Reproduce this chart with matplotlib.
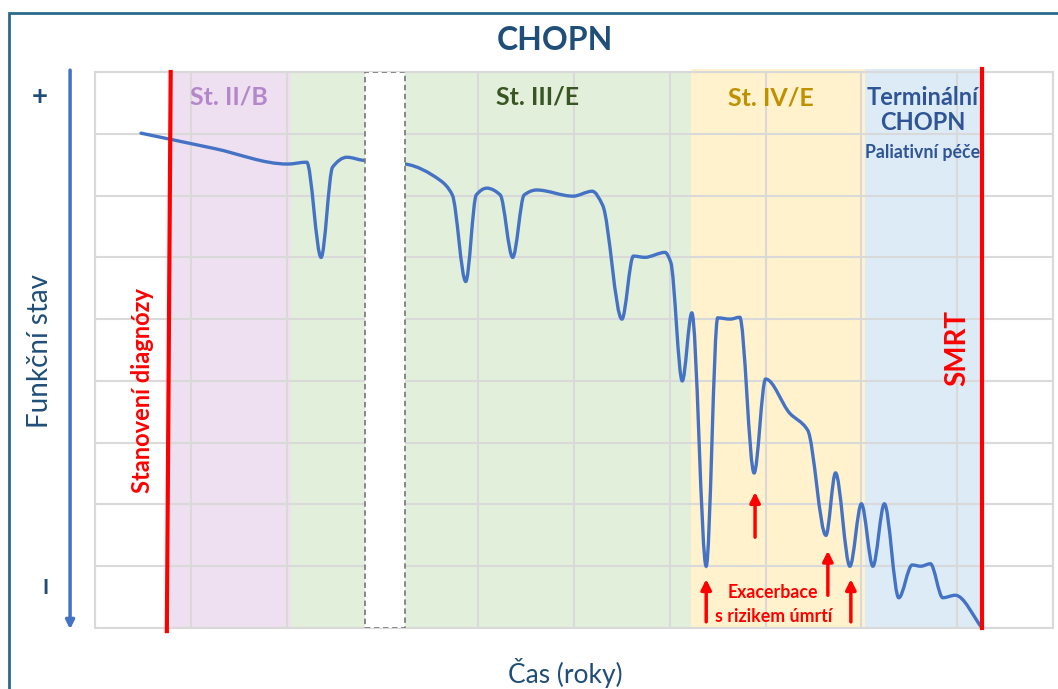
import numpy as np
import matplotlib
matplotlib.use("Agg")
import matplotlib.pyplot as plt
from matplotlib.path import Path
from matplotlib.patches import PathPatch, Rectangle

plt.rcParams['font.family'] = ['Lato', 'DejaVu Sans']

# Průběh funkčního stavu (čas v letech, stav 0-9)
cas = [0.48, 1.25, 2.01, 2.21, 2.36, 2.48, 2.63, 2.80, 3.03, 3.24, 3.60, 3.73, 3.87, 3.98,
       4.09, 4.23, 4.36, 4.48, 4.61, 4.99, 5.19, 5.30, 5.50, 5.62, 5.74, 5.95, 6.01,
       6.13, 6.23, 6.38, 6.50, 6.63, 6.73, 6.88, 7.00, 7.25, 7.44, 7.63, 7.73, 7.88,
       8.00, 8.12, 8.24, 8.39, 8.53, 8.62, 8.72, 8.85, 8.98, 9.26]
stav = [8.01, 7.76, 7.51, 7.54, 6.00, 7.46, 7.62, 7.57, 7.54, 7.51, 7.25, 7.01, 5.61, 7.01,
        7.12, 7.01, 6.00, 7.01, 7.09, 6.99, 7.07, 6.84, 5.00, 6.02, 6.00, 6.08, 5.92,
        4.00, 5.10, 1.00, 5.02, 5.00, 5.03, 2.51, 4.03, 3.48, 3.20, 1.50, 2.51, 1.00,
        2.01, 1.00, 2.01, 0.49, 1.02, 1.00, 1.04, 0.49, 0.53, 0.00]

# Stadia (hranice v čase)
stadia = ["St. II/B", "St. III/E", "St. IV/E", "Terminální\nCHOPN"]
stadia_od = [0.78, 2.05, 6.22, 8.04]
stadia_do = [2.05, 6.22, 8.04, 9.26]
stadia_barvy = ['#EFE0F1', '#E2EFDA', '#FFF2CC', '#DDEBF7']

diagnoza_t = 0.77
smrt_t = 9.26
mezera = (2.82, 3.24)

# Exacerbace (šipky)
exac_t = [6.38, 6.89, 7.65, 7.89]
exac_od = [0.10, 1.47, 0.53, 0.10]
exac_do = [0.79, 2.20, 1.25, 0.79]


def hladka_cesta(xs, ys):
    # monotónní kubické tečny -> Bézierovy úseky
    x = np.asarray(xs, float)
    y = np.asarray(ys, float)
    h = np.diff(x)
    d = np.diff(y) / h
    m = np.zeros_like(x)
    m[0], m[-1] = d[0], d[-1]
    for k in range(1, len(x) - 1):
        if d[k - 1] * d[k] > 0:
            w1 = 2 * h[k] + h[k - 1]
            w2 = h[k] + 2 * h[k - 1]
            m[k] = (w1 + w2) / (w1 / d[k - 1] + w2 / d[k])
    verts = [(x[0], y[0])]
    codes = [Path.MOVETO]
    for k in range(len(x) - 1):
        verts += [(x[k] + h[k] / 3, y[k] + m[k] * h[k] / 3),
                  (x[k + 1] - h[k] / 3, y[k + 1] - m[k + 1] * h[k] / 3),
                  (x[k + 1], y[k + 1])]
        codes += [Path.CURVE4] * 3
    return Path(verts, codes)


fig = plt.figure(figsize=(10.58, 6.89), dpi=100)
ax = fig.add_axes([95 / 1058, 61 / 689, 958 / 1058, 556 / 689])
ax.set_xlim(0, 10)
ax.set_ylim(0, 9)

# Rámeček
fig.add_artist(Rectangle((9 / 1058, -0.1), 1.2, 1 - 13 / 689 + 0.1, transform=fig.transFigure,
                         fill=False, edgecolor='#2B6A8E', lw=2))

# Mřížka
ax.set_xticks(range(11))
ax.set_yticks(range(10))
ax.tick_params(length=0, labelbottom=False, labelleft=False)
ax.grid(True, color='#D9D9D9', lw=1.5, zorder=1)
ax.set_axisbelow(False)
for s in ax.spines.values():
    s.set_color('#D9D9D9')
    s.set_linewidth(1.5)

# Stadia
for i in range(len(stadia)):
    top = 9.05 if i >= 2 else 9
    ax.add_patch(Rectangle((stadia_od[i], 0), stadia_do[i] - stadia_od[i], top,
                           facecolor=stadia_barvy[i], edgecolor='none', zorder=0.5, clip_on=False))

# Křivka
ax.add_patch(PathPatch(hladka_cesta(cas, stav), facecolor='none', edgecolor='#4472C4',
                       lw=2.4, zorder=3, capstyle='round'))

# Přerušení času
ax.add_patch(Rectangle((mezera[0], 0), mezera[1] - mezera[0], 9, facecolor='white',
                       edgecolor='#7F7F7F', ls=(0, (3, 2)), lw=1.3, zorder=4))

# Diagnóza a smrt
ax.plot([diagnoza_t + 0.02, diagnoza_t - 0.02], [9, -0.05], color='#FF0000', lw=3,
        zorder=5, clip_on=False)
ax.plot([smrt_t, smrt_t], [0, 9.05], color='#FF0000', lw=3, zorder=5, clip_on=False)

# Šipky exacerbací
for t, a, b in zip(exac_t, exac_od, exac_do):
    ax.annotate('', xy=(t, b), xytext=(t, a),
                arrowprops=dict(arrowstyle='-|>,head_length=0.6,head_width=0.3',
                                color='#FF0000', lw=2.5, shrinkA=0, shrinkB=0), zorder=6)

# Osa y - šipka
ax.annotate('', xy=(-0.26, -0.02), xytext=(-0.26, 9.03),
            arrowprops=dict(arrowstyle='-|>,head_length=0.5,head_width=0.25',
                            color='#4472C4', lw=2.5, shrinkA=0, shrinkB=0),
            annotation_clip=False)

tmava = '#1F4E79'
ax.text(-0.574, 8.59, '+', ha='center', va='center', fontsize=20, color=tmava,
        fontweight='bold')
ax.text(-0.52, 0.65, 'I', ha='center', va='center', fontsize=15, color=tmava, fontweight='bold')
ax.text(-0.574, 4.48, 'Funkční stav', rotation=90, ha='center', va='center',
        fontsize=20, color=tmava)
ax.text(4.91, -0.73, 'Čas (roky)', ha='center', va='center', fontsize=19, color=tmava)
fig.text(555 / 1058, 1 - 40 / 689, 'CHOPN', ha='center', va='center', fontsize=23,
         fontweight='bold', color=tmava)

# Popisky stadií
ax.text(1.40, 8.59, stadia[0], ha='center', va='center', fontsize=18, fontweight='bold',
        color='#B388CB', zorder=7)
ax.text(4.62, 8.59, stadia[1], ha='center', va='center', fontsize=18, fontweight='bold',
        color='#375623', zorder=7)
ax.text(7.05, 8.58, stadia[2], ha='center', va='center', fontsize=18, fontweight='bold',
        color='#BF9000', zorder=7)
ax.text(8.64, 8.38, stadia[3], ha='center', va='center', fontsize=17, fontweight='bold',
        color='#2F5597', linespacing=1.1, zorder=7)
ax.text(8.64, 7.69, 'Paliativní péče', ha='center', va='center', fontsize=12.8,
        fontweight='bold', color='#2F5597', zorder=7)

ax.text(0.50, 3.85, 'Stanovení diagnózy', rotation=90, ha='center', va='center',
        fontsize=17, fontweight='bold', color='#FF0000', zorder=7)
ax.text(9.00, 4.53, 'SMRT', rotation=90, ha='center', va='center',
        fontsize=20, fontweight='bold', color='#FF0000', zorder=7)
ax.text(7.08, 0.58, 'Exacerbace', ha='center', va='center', fontsize=12.8,
        fontweight='bold', color='#FF0000', zorder=7)
ax.text(7.08, 0.19, 's rizikem úmrtí', ha='center', va='center', fontsize=12.8,
        fontweight='bold', color='#FF0000', zorder=7)

fig.savefig('out.png', dpi=100)
